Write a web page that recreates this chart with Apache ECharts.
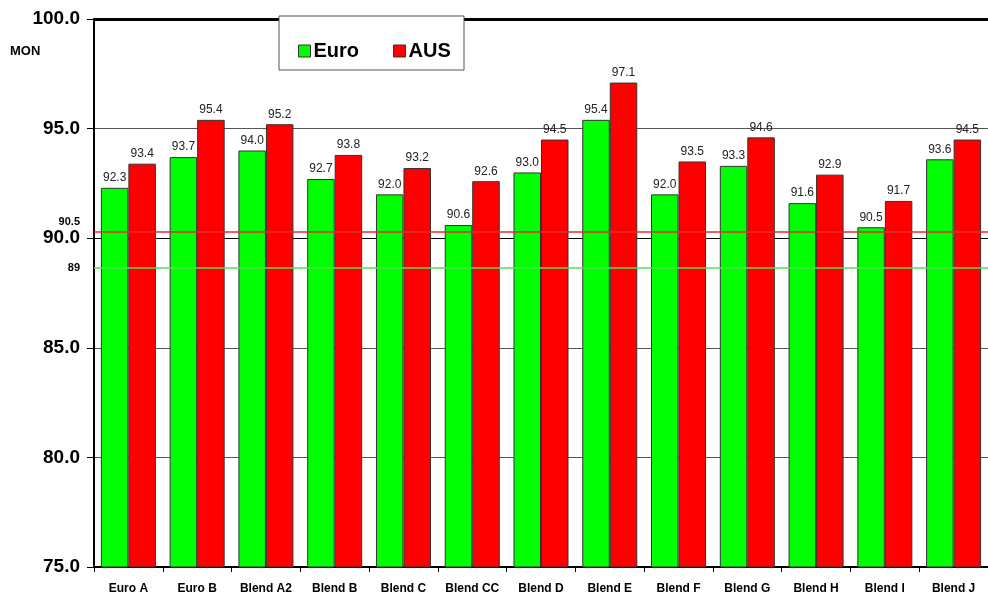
<!DOCTYPE html>
<html>
<head>
<meta charset="utf-8">
<script src="https://cdn.jsdelivr.net/npm/echarts@6/dist/echarts.min.js"></script>
<style>
  html, body { margin: 0; padding: 0; background: #fff; }
  #chart { width: 988px; height: 596px; }
</style>
</head>
<body>
<div id="chart"></div>
<script>
// categories and values
var categories = ['Euro A', 'Euro B', 'Blend A2', 'Blend B', 'Blend C', 'Blend CC', 'Blend D',
  'Blend E', 'Blend F', 'Blend G', 'Blend H', 'Blend I', 'Blend J'];
var euroValues = [92.3, 93.7, 94.0, 92.7, 92.0, 90.6, 93.0, 95.4, 92.0, 93.3, 91.6, 90.5, 93.6];
var ausValues = [93.4, 95.4, 95.2, 93.8, 93.2, 92.6, 94.5, 97.1, 93.5, 94.6, 92.9, 91.7, 94.5];
// reference lines (drawn where they sit in the picture, labelled as in the picture)
var refValues = [90.31, 88.66];
var refLabels = ['90.5', '89'];

var chart = echarts.init(document.getElementById('chart'));

var labelStyle = {
  show: true,
  position: 'top',
  distance: 4,
  fontFamily: 'Liberation Sans, Arial',
  fontSize: 12,
  color: '#222',
  formatter: function (p) { return p.value.toFixed(1); }
};

function refMark(value, text, color, dy) {
  return {
    yAxis: value,
    lineStyle: { color: color, width: 1.5, type: 'solid', opacity: 1 },
    emphasis: { disabled: true },
    label: {
      show: true, position: 'start', distance: 14, offset: [0, dy],
      formatter: text,
      fontFamily: 'Liberation Sans, Arial', fontWeight: 'bold', fontSize: 11, color: '#000'
    }
  };
}

var option = {
  animation: false,
  backgroundColor: '#fff',
  grid: {
    left: 94,
    top: 19,
    width: 900,
    height: 548,
    containLabel: false
  },
  xAxis: {
    type: 'category',
    data: categories,
    axisLine: { lineStyle: { color: '#000', width: 2 } },
    axisTick: { show: true, length: 5, interval: 0, lineStyle: { color: '#000' } },
    axisLabel: {
      interval: 0,
      fontFamily: 'Liberation Sans, Arial',
      fontWeight: 'bold',
      fontSize: 12,
      color: '#000',
      margin: 16
    }
  },
  yAxis: {
    type: 'value',
    min: 75,
    max: 100,
    interval: 5,
    axisLine: { show: true, lineStyle: { color: '#000', width: 2 } },
    axisTick: { show: true, inside: false, length: 7, lineStyle: { color: '#000' } },
    axisLabel: {
      fontFamily: 'Liberation Sans, Arial',
      fontWeight: 'bold',
      fontSize: 19,
      color: '#000',
      margin: 14,
      formatter: function (v) { return v.toFixed(1); }
    },
    splitLine: {
      show: true,
      lineStyle: { color: ['#000', '#555', '#555', '#000', '#555', '#000'], width: 1 }
    }
  },
  series: [
    {
      name: 'Euro',
      type: 'bar',
      data: euroValues,
      barGap: '0%',
      barCategoryGap: '20%',
      itemStyle: { color: '#00ff00', borderColor: '#333', borderWidth: 1 },
      label: labelStyle,
      markLine: {
        silent: true,
        symbol: 'none',
        z: 20,
        data: [
          { yAxis: 100, lineStyle: { color: '#000', width: 3, type: 'solid' }, label: { show: false } },
          refMark(refValues[0], refLabels[0], '#e82a2a', -9),
          refMark(refValues[1], refLabels[1], '#55e055', 0)
        ]
      }
    },
    {
      name: 'AUS',
      type: 'bar',
      data: ausValues,
      barGap: '0%',
      barCategoryGap: '20%',
      itemStyle: { color: '#ff0000', borderColor: '#333', borderWidth: 1 },
      label: labelStyle
    }
  ],
  graphic: [
    {
      type: 'rect',
      z: 50,
      shape: { x: 279, y: 16, width: 185, height: 54 },
      style: { fill: '#fff', stroke: '#555', lineWidth: 1 }
    },
    {
      type: 'text',
      left: 10,
      top: 45,
      style: {
        text: 'MON',
        fontFamily: 'Liberation Sans, Arial',
        fontWeight: 'bold',
        fontSize: 13,
        fill: '#000'
      }
    }
  ],
  legend: {
    z: 60,
    left: 293,
    top: 36,
    itemWidth: 12,
    itemHeight: 12,
    itemGap: 34,
    icon: 'rect',
    textStyle: {
      fontFamily: 'Liberation Sans, Arial',
      fontWeight: 'bold',
      fontSize: 20,
      color: '#000',
      padding: [0, 0, 0, -2]
    },
    itemStyle: { borderColor: '#333', borderWidth: 1 },
    data: ['Euro', 'AUS']
  }
};

chart.setOption(option);
</script>
</body>
</html>
